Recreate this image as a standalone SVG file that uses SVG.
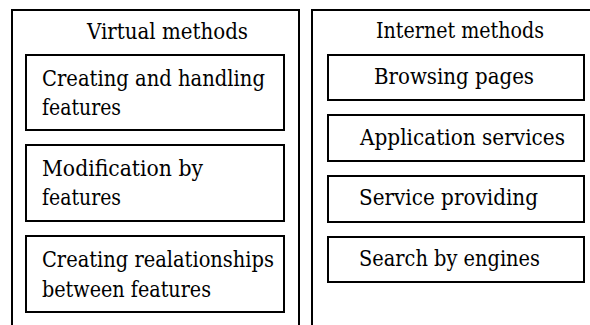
<svg xmlns="http://www.w3.org/2000/svg" width="590" height="325" viewBox="0 0 590 325">
<style>
.frame{fill:none;stroke:#000;stroke-width:2}
.box{fill:#fff;stroke:#000;stroke-width:2}
.t{font-family:'DejaVu Serif',serif;font-size:22px;fill:#000}
</style>
<rect width="590" height="325" fill="#fff"/>
<g class="t">
<g id="virtual-methods">
<path class="frame" d="M12,326 V10 H299 V326"/>
<text x="87" y="39" textLength="161" lengthAdjust="spacingAndGlyphs">Virtual methods</text>
</g>
<g id="internet-methods">
<path class="frame" d="M312,326 V10 H592"/>
<text x="376" y="38" textLength="168" lengthAdjust="spacingAndGlyphs">Internet methods</text>
</g>
<g id="creating-handling">
<rect class="box" x="26" y="55" width="258" height="75"/>
<text x="42" y="86" textLength="223" lengthAdjust="spacingAndGlyphs">Creating and handling</text>
<text x="42" y="115" textLength="79" lengthAdjust="spacingAndGlyphs">features</text>
</g>
<g id="modification">
<rect class="box" x="26" y="145" width="258" height="76"/>
<text x="42" y="176" textLength="161" lengthAdjust="spacingAndGlyphs">Modification by</text>
<text x="42" y="205" textLength="79" lengthAdjust="spacingAndGlyphs">features</text>
</g>
<g id="creating-relationships">
<rect class="box" x="26" y="236" width="258" height="76"/>
<text x="42" y="267" textLength="232" lengthAdjust="spacingAndGlyphs">Creating realationships</text>
<text x="42" y="297" textLength="169" lengthAdjust="spacingAndGlyphs">between features</text>
</g>
<g id="browsing">
<rect class="box" x="328" y="55" width="256" height="45"/>
<text x="374" y="84" textLength="160" lengthAdjust="spacingAndGlyphs">Browsing pages</text>
</g>
<g id="application">
<rect class="box" x="328" y="115" width="256" height="46"/>
<text x="360" y="145" textLength="205" lengthAdjust="spacingAndGlyphs">Application services</text>
</g>
<g id="service">
<rect class="box" x="328" y="176" width="256" height="46"/>
<text x="359" y="205" textLength="179" lengthAdjust="spacingAndGlyphs">Service providing</text>
</g>
<g id="search">
<rect class="box" x="328" y="237" width="256" height="45"/>
<text x="359" y="266" textLength="181" lengthAdjust="spacingAndGlyphs">Search by engines</text>
</g>
</g>
<g id="connectors"></g>
</svg>
